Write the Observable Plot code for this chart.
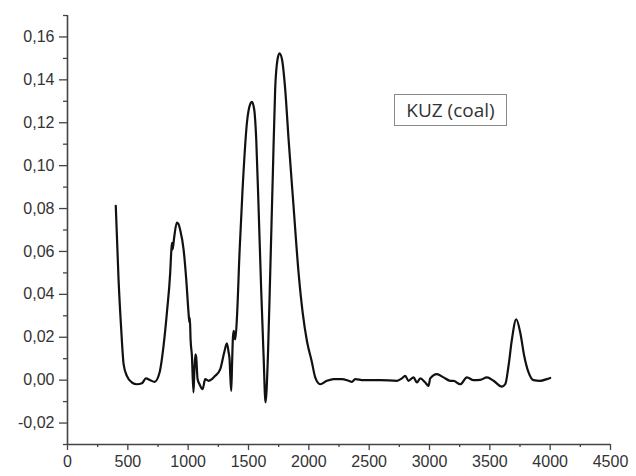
<!DOCTYPE html>
<html>
<head>
<meta charset="utf-8">
<script src="https://cdn.jsdelivr.net/npm/d3@7"></script>
<script src="https://cdn.jsdelivr.net/npm/@observablehq/plot@0.6"></script>
<style>
  html, body { margin: 0; padding: 0; background: #fff; }
  #wrap { position: relative; width: 636px; height: 476px; }
  #legend {
    position: absolute; left: 394px; top: 94px; width: 111px; height: 30px;
    border: 1px solid #8a8a8a; box-sizing: content-box;
    font-family: "Open Sans", "Liberation Sans", Arial, sans-serif; font-size: 19px;
    color: #333; line-height: 30px; text-align: center; white-space: nowrap;
  }
</style>
</head>
<body>
<div id="wrap"><div id="legend"></div></div>
<script>
const seriesName = "KUZ (coal)";
const wavenumber = [400,423,445,465,492,534,575,617,650,686,721,763,796,824,851,860,866,871,884,906,920,934,962,984,1005,1010,1014,1020,1031,1044,1052,1060,1066,1078,1095,1120,1141,1169,1197,1224,1265,1299,1321,1335,1343,1350,1357,1364,1371,1378,1384,1391,1405,1426,1450,1487,1514,1528,1547,1564,1583,1605,1625,1641,1661,1680,1702,1721,1741,1757,1777,1804,1832,1873,1915,1950,1985,2025,2053,2094,2150,2205,2274,2330,2357,2384,2453,2591,2730,2771,2799,2826,2868,2896,2923,2965,2992,3006,3061,3116,3172,3199,3255,3310,3365,3420,3476,3531,3600,3628,3655,3683,3719,3752,3785,3821,3862,3918,3973,4000];
const absorbance = [0.0813,0.047,0.0238,0.0075,0.002,-0.0011,-0.0019,-0.0014,0.0008,0.0,-0.0008,0.0036,0.016,0.0316,0.050,0.060,0.064,0.061,0.0665,0.0735,0.0728,0.070,0.061,0.047,0.030,0.027,0.029,0.019,0.0113,-0.0057,0.005,0.012,0.011,0.0005,-0.002,-0.0042,0.0005,-0.0003,0.0005,0.002,0.005,0.013,0.0172,0.013,0.0098,0.001,-0.005,0.008,0.020,0.023,0.020,0.019,0.030,0.060,0.088,0.120,0.1287,0.1297,0.1263,0.1124,0.0813,0.0424,0.0113,-0.0104,0.0113,0.050,0.0968,0.1357,0.1497,0.1524,0.1497,0.1357,0.1124,0.0813,0.050,0.031,0.018,0.0085,0.0013,-0.0019,-0.0003,0.0005,0.0005,-0.0003,-0.0008,0.0005,0.0,0.0,-0.0003,0.0008,0.002,-0.0003,0.0013,-0.0011,0.0008,-0.0011,-0.0027,0.0008,0.0028,0.0013,-0.0003,-0.0003,-0.0019,0.0013,0.0,0.0001,0.0013,-0.0003,-0.003,-0.0019,0.0067,0.019,0.0284,0.0222,0.0113,0.0036,0.0,-0.0003,0.0005,0.0010];
const xMajorTicks = [0,500,1000,1500,2000,2500,3000,3500,4000,4500];
const xMinorTicks = [250,750,1250,1750,2250,2750,3250,3750,4250];
const yMajorTicks = [-0.02,0.00,0.02,0.04,0.06,0.08,0.10,0.12,0.14,0.16];
const yMinorTicks = [-0.03,-0.01,0.01,0.03,0.05,0.07,0.09,0.11,0.13,0.15,0.17];

const data = wavenumber.map((w, i) => ({w, a: absorbance[i]}));
const fmt = d => d.toFixed(2).replace(".", ",");
const axisColor = "#444";

const chart = Plot.plot({
  width: 636,
  height: 476,
  marginLeft: 67,
  marginRight: 26,
  marginTop: 15,
  marginBottom: 32,
  style: {fontFamily: "'Liberation Sans', Arial, sans-serif", color: "#333", background: "#fff"},
  x: {domain: [0, 4500]},
  y: {domain: [-0.03, 0.17]},
  marks: [
    Plot.axisY({ticks: yMajorTicks, tickSize: 8, tickPadding: 5, tickFormat: fmt, fontSize: 16, label: null, stroke: axisColor, strokeWidth: 1.3}),
    Plot.axisY({ticks: yMinorTicks, tickSize: 4, text: null, label: null, stroke: axisColor, strokeWidth: 1.3}),
    Plot.axisX({ticks: xMajorTicks, tickSize: 6, tickPadding: 5, tickFormat: d => String(d), fontSize: 16, label: null, stroke: axisColor, strokeWidth: 1.3}),
    Plot.axisX({ticks: xMinorTicks, tickSize: 3, text: null, label: null, stroke: axisColor, strokeWidth: 1.3}),
    Plot.ruleX([0], {stroke: axisColor, strokeWidth: 1.6}),
    Plot.ruleY([-0.03], {stroke: axisColor, strokeWidth: 1.6}),
    Plot.line(data, {x: "w", y: "a", stroke: "#111", strokeWidth: 2.2, curve: "monotone-x"})
  ]
});
const wrap = document.getElementById("wrap");
wrap.insertBefore(chart, wrap.firstChild);
chart.style.position = "absolute";
chart.style.left = "0";
chart.style.top = "0";
document.getElementById("legend").textContent = seriesName;
</script>
</body>
</html>
